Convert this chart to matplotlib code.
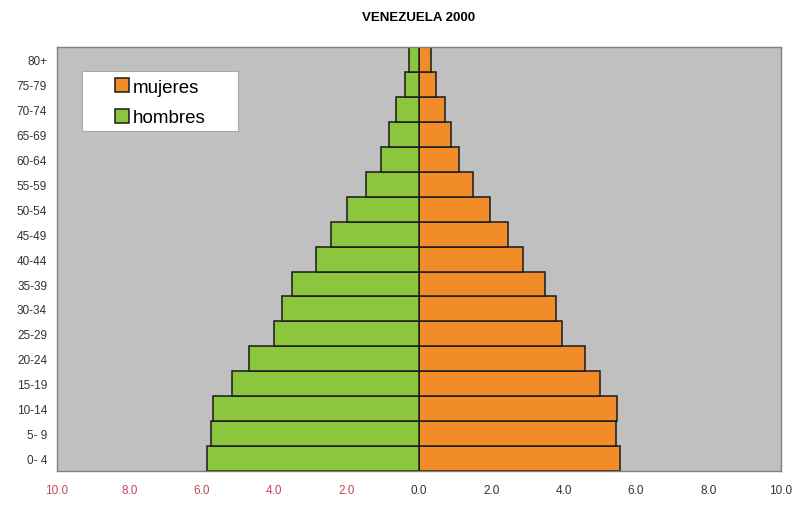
import numpy as np
import matplotlib.pyplot as plt
from matplotlib.patches import Rectangle

plt.rcParams['font.family'] = ['Liberation Sans', 'DejaVu Sans']

# grupos de edad, de abajo hacia arriba
grupos = ['0- 4', '5- 9', '10-14', '15-19', '20-24', '25-29', '30-34', '35-39',
          '40-44', '45-49', '50-54', '55-59', '60-64', '65-69', '70-74', '75-79', '80+']
# porcentaje de la poblacion
hombres = [5.84, 5.73, 5.68, 5.17, 4.70, 4.00, 3.79, 3.51, 2.85, 2.43, 1.98, 1.46,
           1.05, 0.83, 0.64, 0.37, 0.27]
mujeres = [5.55, 5.46, 5.48, 5.00, 4.59, 3.95, 3.78, 3.49, 2.88, 2.47, 1.96, 1.50,
           1.11, 0.88, 0.71, 0.47, 0.35]
xticks = [-10, -8, -6, -4, -2, 0, 2, 4, 6, 8, 10]

fig = plt.figure(figsize=(8, 5.06), dpi=100)
ax = fig.add_axes([0.071, 0.067, 0.905, 0.838])
ax.set_facecolor('#c0c0c0')

y = np.arange(len(grupos))
ax.barh(y, mujeres, height=1.0, color='#f28c28', edgecolor='#1a1a1a', linewidth=1.1, label='mujeres')
ax.barh(y, -np.array(hombres), height=1.0, color='#8cc63e', edgecolor='#1a1a1a', linewidth=1.1, label='hombres')

ax.set_xlim(-10, 10)
ax.set_ylim(-0.5, len(grupos) - 0.5)
ax.set_yticks(y)
ax.set_yticklabels(grupos, fontsize=8.5, color='#333333')
ax.set_xticks(xticks)
ax.set_xticklabels(['%.1f' % abs(v) for v in xticks], fontsize=8.5)
for lab, v in zip(ax.get_xticklabels(), xticks):
    lab.set_color('#c4465a' if v < 0 else '#333333')
ax.tick_params(length=0, pad=9)
ax.tick_params(axis='y', pad=7)

for s in ax.spines.values():
    s.set_color('#808080')
    s.set_linewidth(1)

fig.text(0.523, 0.965, 'VENEZUELA 2000', ha='center', va='center', fontsize=9.5, fontweight='bold')

# caja blanca de la leyenda
fig.patches.append(Rectangle((0.1025, 0.739), 0.195, 0.1186, transform=fig.transFigure,
                             facecolor='white', edgecolor='#a8a8a8', linewidth=0.8, zorder=5))
leg = fig.legend(loc='upper left', bbox_to_anchor=(0.144, 0.843), fontsize=13.5, frameon=False,
                 handlelength=0.75, handleheight=0.75, handletextpad=0.2, borderpad=0,
                 labelspacing=0.7, borderaxespad=0)
leg.set_zorder(6)

fig.savefig('out.png', dpi=100)
